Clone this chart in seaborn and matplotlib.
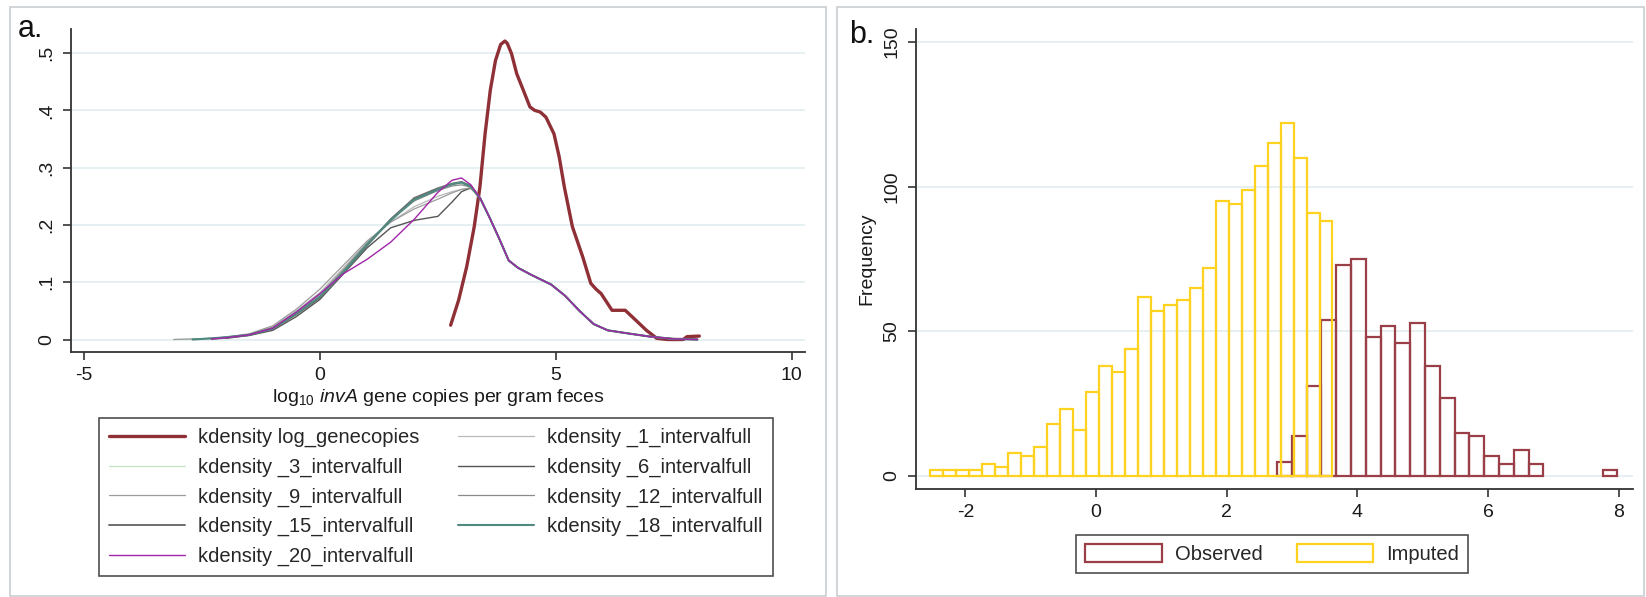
import numpy as np
import pandas as pd
import matplotlib
matplotlib.use("Agg")
import matplotlib.pyplot as plt
from matplotlib.patches import Patch, Rectangle
import seaborn as sns

# ---------------- Panel a data (kernel densities) ----------------
gc_x = [2.77, 2.94, 3.11, 3.27, 3.39, 3.50, 3.61, 3.72, 3.83, 3.92, 3.97, 4.06, 4.17,
        4.34, 4.45, 4.55, 4.67, 4.79, 4.96, 5.07, 5.18, 5.35, 5.57, 5.74, 5.85, 5.96,
        6.19, 6.47, 6.69, 6.92, 7.14, 7.37, 7.70, 7.78, 8.04]
gc_y = [0.025, 0.069, 0.127, 0.197, 0.266, 0.359, 0.435, 0.487, 0.515, 0.521, 0.517, 0.499, 0.464,
        0.429, 0.406, 0.400, 0.397, 0.388, 0.359, 0.319, 0.266, 0.197, 0.144, 0.098, 0.088, 0.080,
        0.051, 0.051, 0.034, 0.016, 0.002, 0.0, 0.0, 0.005, 0.006]

imp_grid = [-3.1, -2.7, -2.3, -2.0, -1.5, -1.0, -0.5, 0.0, 0.5, 1.0, 1.5, 2.0, 2.5, 2.8, 3.0, 3.2]
nan = np.nan
dens_1 = [nan, nan, 0.001, 0.003, 0.009, 0.022, 0.050, 0.082, 0.125, 0.170, 0.205, 0.232, 0.250, 0.258, 0.262, 0.263]
dens_3 = [0.000, 0.001, 0.002, 0.004, 0.009, 0.020, 0.046, 0.077, 0.120, 0.168, 0.210, 0.245, 0.263, 0.272, 0.274, 0.268]
dens_6 = [nan, nan, nan, 0.002, 0.007, 0.016, 0.040, 0.070, 0.115, 0.160, 0.195, 0.208, 0.215, 0.240, 0.258, 0.265]
dens_9 = [0.000, 0.001, 0.002, 0.004, 0.010, 0.024, 0.053, 0.088, 0.130, 0.172, 0.205, 0.228, 0.245, 0.256, 0.262, 0.265]
dens_12 = [nan, 0.000, 0.002, 0.004, 0.009, 0.021, 0.048, 0.079, 0.122, 0.168, 0.209, 0.242, 0.260, 0.268, 0.270, 0.266]
dens_15 = [nan, nan, 0.001, 0.003, 0.008, 0.019, 0.044, 0.073, 0.116, 0.164, 0.210, 0.247, 0.264, 0.272, 0.275, 0.268]
dens_18 = [nan, 0.000, 0.002, 0.004, 0.008, 0.019, 0.045, 0.075, 0.118, 0.166, 0.208, 0.244, 0.262, 0.271, 0.274, 0.267]
dens_20 = [nan, nan, 0.001, 0.003, 0.008, 0.020, 0.048, 0.080, 0.115, 0.140, 0.170, 0.210, 0.257, 0.278, 0.282, 0.270]

# shared right tail of the imputed densities
tail_x = [3.4, 3.6, 3.8, 4.0, 4.2, 4.5, 4.9, 5.2, 5.5, 5.8, 6.1, 6.5, 7.0, 7.5, 8.0]
tail_y = [0.246, 0.212, 0.176, 0.138, 0.125, 0.112, 0.096, 0.076, 0.050, 0.027, 0.016, 0.011, 0.005, 0.001, 0.0]

imp_labels = ["kdensity _1_intervalfull", "kdensity _3_intervalfull", "kdensity _6_intervalfull",
              "kdensity _9_intervalfull", "kdensity _12_intervalfull", "kdensity _15_intervalfull",
              "kdensity _18_intervalfull", "kdensity _20_intervalfull"]

# ---------------- Panel b data (histograms) ----------------
imp_start, imp_width = -2.54, 0.1987
imp_counts = [2, 2, 2, 2, 4, 3, 8, 7, 10, 18, 23, 16, 29, 38, 36, 44, 62, 57, 59, 61, 65, 72,
              95, 94, 99, 107, 115, 122, 110, 91, 88]
obs_start, obs_width = 2.77, 0.2265
obs_counts = [5, 14, 31, 54, 73, 75, 48, 52, 46, 53, 38, 27, 15, 14, 7, 4, 9, 4, 0, 0, 0, 0, 2]

# ---------------- style ----------------
sns.set_style("white")
plt.rcParams["font.family"] = ["Liberation Sans", "DejaVu Sans"]
plt.rcParams["axes.unicode_minus"] = False
plt.rcParams["mathtext.fontset"] = "custom"
plt.rcParams["mathtext.rm"] = "Liberation Sans"
plt.rcParams["mathtext.it"] = "Liberation Sans:italic"

W, H = 1646, 597
fig = plt.figure(figsize=(W / 100, H / 100), dpi=100)
fig.patch.set_facecolor("white")

def fx(px):
    return px / W

def fy(py):
    return 1 - py / H

# panel frames
for (x0, x1) in [(10, 826), (837, 1644)]:
    fig.patches.append(Rectangle((fx(x0), fy(596)), fx(x1 - x0), (596 - 7) / H,
                                 transform=fig.transFigure, fill=False,
                                 edgecolor="#C9CED2", linewidth=1.2))

axA = fig.add_axes([fx(71), fy(352), fx(805 - 71), (352 - 29) / H])
axB = fig.add_axes([fx(915.7), fy(489), fx(1632.7 - 915.7), (489 - 29) / H])

grid_col = "#E6EFF1"
tick_col = "#333333"
fs = 14
lfs = 14.5

# ---------- panel a ----------
red = "#8F2F36"
sns.lineplot(x=gc_x, y=gc_y, ax=axA, color=red, lw=2.4, sort=False, estimator=None,
             label="kdensity log_genecopies")
series = [dens_1, dens_3, dens_6, dens_9, dens_12, dens_15, dens_18, dens_20]
colors = ["#B9B9B9", "#C2E4C2", "#555555", "#9C9C9C", "#8A8A8A", "#6E6E6E", "#4E8A80", "#A126A8"]
widths = [0.9, 0.9, 1.0, 0.9, 0.9, 1.4, 1.5, 1.0]
for ys, c, lw, lab in zip(series, colors, widths, imp_labels):
    xs = list(imp_grid) + list(tail_x)
    yv = list(ys) + list(tail_y)
    sns.lineplot(x=xs, y=yv, ax=axA, color=c, lw=lw, sort=False, estimator=None, label=lab)

axA.set_xlim(-5.276, 10.28)
axA.set_ylim(-0.0218, 0.542)
axA.set_xticks([-5, 0, 5, 10])
axA.set_xticklabels(["-5", "0", "5", "10"])
axA.set_yticks([0, 0.1, 0.2, 0.3, 0.4, 0.5])
axA.set_yticklabels(["0", ".1", ".2", ".3", ".4", ".5"])
axA.set_xlabel(r"log$_{\mathregular{10}}$ $\mathit{invA}$ gene copies per gram feces",
               fontsize=fs, labelpad=2, color="#1a1a1a")
axA.set_ylabel("")

handles, labels = axA.get_legend_handles_labels()
if axA.get_legend() is not None:
    axA.get_legend().remove()
order = [0, 2, 4, 6, 8, 1, 3, 5, 7]  # column-major so rows read like the reference
leg = fig.legend([handles[i] for i in order], [labels[i] for i in order], ncol=2,
                 loc="upper left", bbox_to_anchor=(fx(99), fy(418)),
                 fontsize=lfs, frameon=True, fancybox=False, edgecolor="#222222",
                 handlelength=3.75, handletextpad=0.65, labelspacing=0.52, borderpad=0.5,
                 borderaxespad=0, columnspacing=1.95)
leg.get_frame().set_linewidth(1.2)

# ---------- panel b ----------
obs_col = "#9A3F47"
imp_col = "#FFD21F"
obs_edges = [obs_start + obs_width * i for i in range(len(obs_counts) + 1)]
imp_edges = [imp_start + imp_width * i for i in range(len(imp_counts) + 1)]
obs_df = pd.DataFrame({"x": [(obs_edges[i] + obs_edges[i + 1]) / 2 for i in range(len(obs_counts))],
                       "w": obs_counts})
imp_df = pd.DataFrame({"x": [(imp_edges[i] + imp_edges[i + 1]) / 2 for i in range(len(imp_counts))],
                       "w": imp_counts})

sns.histplot(data=obs_df, x="x", weights="w", bins=obs_edges, ax=axB, fill=False,
             element="bars", color=obs_col, linewidth=1.6)
sns.histplot(data=imp_df, x="x", weights="w", bins=imp_edges, ax=axB, fill=False,
             element="bars", color=imp_col, linewidth=1.6)
for p in list(axB.patches):
    if p.get_height() == 0:
        p.remove()

axB.set_xlim(-2.76, 8.215)
axB.set_ylim(-4.49, 154.5)
axB.set_xticks([-2, 0, 2, 4, 6, 8])
axB.set_xticklabels(["-2", "0", "2", "4", "6", "8"])
axB.set_yticks([0, 50, 100, 150])
axB.set_yticklabels(["0", "50", "100", "150"])
axB.set_xlabel("")
axB.set_ylabel("Frequency", fontsize=fs, labelpad=6, color="#1a1a1a")

hb = [Patch(facecolor="white", edgecolor=obs_col, linewidth=1.6),
      Patch(facecolor="white", edgecolor=imp_col, linewidth=1.6)]
legb = fig.legend(hb, ["Observed", "Imputed"], ncol=2, loc="upper left",
                  bbox_to_anchor=(fx(1076), fy(535)),
                  fontsize=lfs, frameon=True, fancybox=False, edgecolor="#222222",
                  handlelength=3.8, handleheight=1.0, handletextpad=0.65, borderpad=0.45,
                  borderaxespad=0, columnspacing=1.7)
legb.get_frame().set_linewidth(1.2)

# ---------- common axis styling ----------
for ax in (axA, axB):
    ax.set_facecolor("white")
    for s in ("top", "right"):
        ax.spines[s].set_visible(False)
    for s in ("left", "bottom"):
        ax.spines[s].set_color(tick_col)
        ax.spines[s].set_linewidth(1.3)
    ax.yaxis.grid(True, color=grid_col, linewidth=1.4)
    ax.xaxis.grid(False)
    ax.set_axisbelow(True)
    ax.tick_params(axis="both", direction="out", length=6, width=1.2, color=tick_col,
                   labelsize=fs, labelcolor="#1a1a1a", pad=5, left=True, bottom=True)
    for lbl in ax.get_yticklabels():
        lbl.set_rotation(90)
        lbl.set_va("center")
        lbl.set_ha("right")

fig.text(fx(18), fy(37), "a.", fontsize=22, va="baseline", ha="left", color="#111111")
fig.text(fx(849), fy(43), "b.", fontsize=22, va="baseline", ha="left", color="#111111")

fig.savefig("out.png", dpi=100, facecolor="white")
